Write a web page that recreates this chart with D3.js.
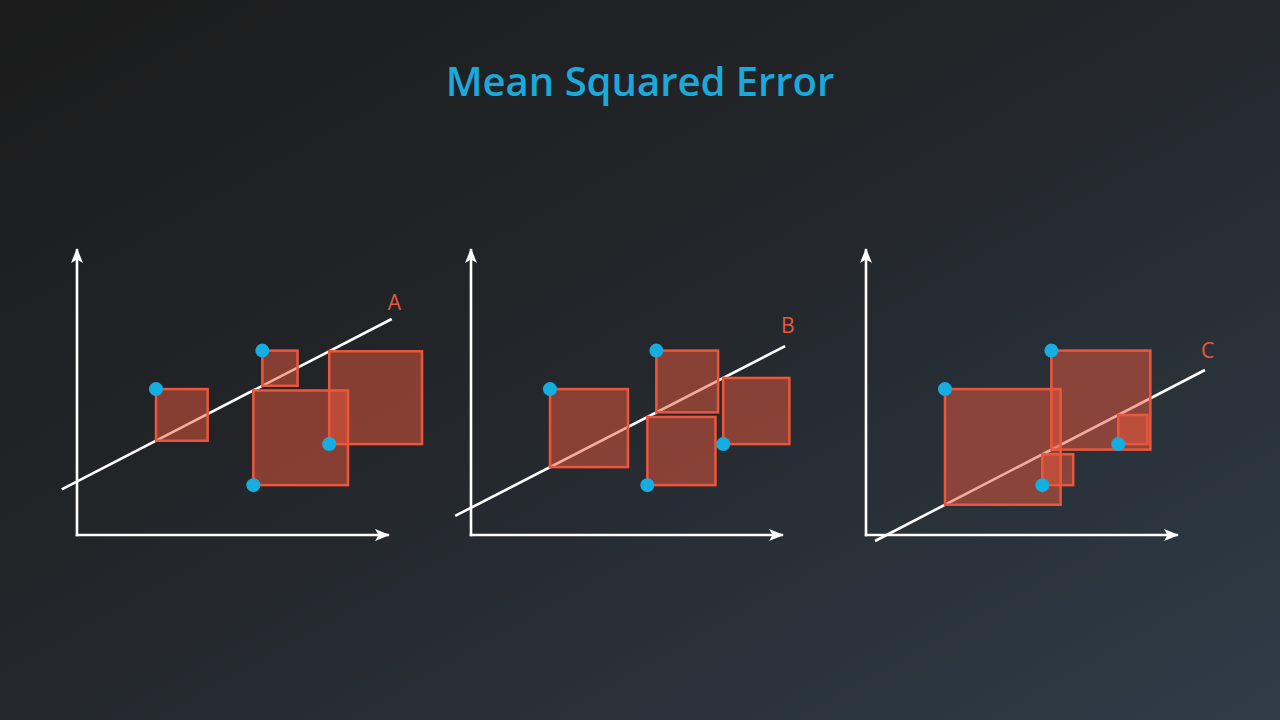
<!DOCTYPE html>
<html><head><meta charset="utf-8">
<script src="https://cdn.jsdelivr.net/npm/d3@7"></script>
<style>html,body{margin:0;padding:0;overflow:hidden;background:#222}</style>
</head><body>
<svg id="chart" width="1280" height="720"></svg>
<script>
// ---- data ----
const title = "Mean Squared Error";
const pointX = [2.54, 5.96, 5.67, 8.11];
const pointY = [5.12, 6.47, 1.75, 3.19];
const lineNames = ["A", "B", "C"];
const lineSlope = [0.5636, 0.5617, 0.5655];
const lineIntercept = [1.876, 0.956, -0.374];
const lineStartX = [-0.49, -0.51, 0.29];
const lineEndX = [10.12, 10.10, 10.90];

// ---- layout ----
const W = 1280, H = 720;
const panelOrigins = [77, 471, 866];
const axisBottom = 535, axisTop = 249, axisLen = 312;
const labelDy = [-9, -13, -12];
const svg = d3.select("#chart");
const defs = svg.append("defs");
const grad = defs.append("linearGradient").attr("id","bg")
  .attr("x1","0").attr("y1","0").attr("x2","1").attr("y2","1");
grad.append("stop").attr("offset","0%").attr("stop-color","#1b1b1b");
grad.append("stop").attr("offset","45%").attr("stop-color","#23262a");
grad.append("stop").attr("offset","100%").attr("stop-color","#2f3c48");
svg.append("rect").attr("width",W).attr("height",H).attr("fill","url(#bg)");

defs.append("marker").attr("id","arrow").attr("viewBox","0 0 15 14")
  .attr("refX",14).attr("refY",7).attr("markerWidth",15).attr("markerHeight",14)
  .attr("markerUnits","userSpaceOnUse").attr("orient","auto")
  .append("path").attr("d","M0,1 L15,7 L0,13 L3.5,7 Z").attr("fill","#fff");

svg.append("text").attr("x",640).attr("y",96).attr("text-anchor","middle")
  .attr("font-family","'Open Sans', sans-serif").attr("font-weight",600)
  .attr("font-size",40).attr("fill","#1aa9da").text(title);

const yScale = d3.scaleLinear().domain([0,10]).range([axisBottom, axisBottom-285]);

lineNames.forEach((name, i) => {
  const ox = panelOrigins[i];
  const x = d3.scaleLinear().domain([0,10]).range([ox, ox+311]);
  const g = svg.append("g");
  // axes
  g.append("line").attr("x1",x(0)).attr("y1",axisBottom+1.2).attr("x2",x(0)).attr("y2",axisTop)
    .attr("stroke","#fff").attr("stroke-width",2.6).attr("marker-end","url(#arrow)");
  g.append("line").attr("x1",x(0)-1.2).attr("y1",axisBottom).attr("x2",ox+axisLen).attr("y2",axisBottom)
    .attr("stroke","#fff").attr("stroke-width",2.6).attr("marker-end","url(#arrow)");
  // regression line
  const f = v => lineIntercept[i] + lineSlope[i]*v;
  g.append("line").attr("x1",x(lineStartX[i])).attr("y1",yScale(f(lineStartX[i])))
    .attr("x2",x(lineEndX[i])).attr("y2",yScale(f(lineEndX[i])))
    .attr("stroke","#fff").attr("stroke-width",2.6);
  g.append("text").attr("x",x(lineEndX[i])-4).attr("y",yScale(f(lineEndX[i]))+labelDy[i])
    .attr("font-family","'Open Sans', sans-serif").attr("font-size",21)
    .attr("fill","#ea573b").text(name);
  // squares
  const pts = pointX.map((px, k) => ({x: px, y: pointY[k]}));
  g.selectAll("rect.sq").data(pts).join("rect").attr("class","sq")
    .attr("x", d => x(d.x))
    .attr("y", d => Math.min(yScale(d.y), yScale(f(d.x))))
    .attr("width", d => Math.abs(yScale(d.y) - yScale(f(d.x))))
    .attr("height", d => Math.abs(yScale(d.y) - yScale(f(d.x))))
    .attr("fill","rgba(236,88,60,0.5)").attr("stroke","#ec573b").attr("stroke-width",2.5);
  g.selectAll("circle.pt").data(pts).join("circle").attr("class","pt")
    .attr("cx", d => x(d.x)).attr("cy", d => yScale(d.y)).attr("r",7)
    .attr("fill","#15aee0");
});
</script>
</body></html>
